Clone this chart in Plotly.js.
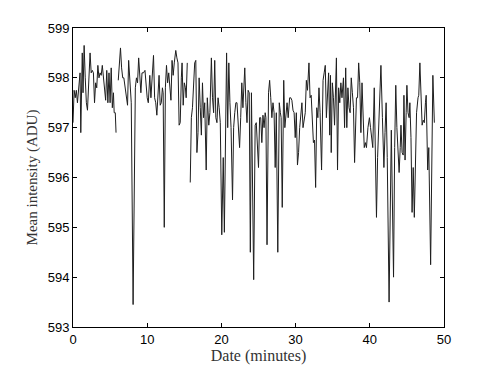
<!DOCTYPE html>
<html>
<head>
<meta charset="utf-8">
<script src="https://cdn.plot.ly/plotly-3.0.1.min.js"></script>
<style>
  html, body { margin: 0; padding: 0; background: #fff; }
  #fig { width: 491px; height: 369px; }
</style>
</head>
<body>
<div id="fig"></div>
<script>
// Time of each frame (minutes) and mean intensity (ADU); null = gap in record
var minutes = [
  0.0, 0.15, 0.3, 0.45, 0.6, 0.8, 0.95, 1.05, 1.15, 1.25, 1.35, 1.5, 1.65, 1.8, 1.95,
  2.1, 2.3, 2.45, 2.6, 2.75, 2.9, 3.05, 3.2, 3.35, 3.5, 3.65, 3.8, 3.95, 4.1, 4.25,
  4.4, 4.55, 4.7, 4.85, 5.0, 5.15, 5.3, 5.45, 5.55, 5.7, 5.8, 5.95,
  6.1, 6.25, 6.4, 6.55, 6.7, 6.85, 7.0, 7.2, 7.35, 7.5, 7.65, 7.85, 8.1, 8.4, 8.55,
  8.7, 8.85, 9.0, 9.15, 9.3, 9.5, 9.7, 9.85, 10.0, 10.15, 10.35, 10.5, 10.65, 10.85,
  11.0, 11.15, 11.3, 11.45, 11.6, 11.75, 11.9, 12.05, 12.15, 12.3, 12.45, 12.6, 12.75,
  12.9, 13.05, 13.2, 13.35, 13.5, 13.65, 13.85, 14.0, 14.15, 14.3, 14.45, 14.6, 14.7,
  14.85, 15.0, 15.15, 15.25, 15.4, 15.5,
  15.8, 15.95, 16.1, 16.25, 16.4, 16.55, 16.7, 16.85, 17.0, 17.15, 17.3, 17.45, 17.6,
  17.75, 17.95, 18.1, 18.3, 18.45, 18.65, 18.8, 18.95, 19.1, 19.25, 19.4, 19.55, 19.7,
  19.85, 20.05, 20.25, 20.4, 20.55, 20.7, 20.85, 21.0, 21.15, 21.3, 21.5, 21.65, 21.8,
  21.95, 22.1, 22.3, 22.45, 22.6, 22.75, 22.9, 23.05, 23.15, 23.3, 23.45, 23.6, 23.75,
  23.9, 24.05, 24.35, 24.55, 24.7, 24.85, 25.0, 25.15, 25.3, 25.45, 25.6, 25.75, 25.9,
  26.0, 26.15, 26.35, 26.5, 26.65, 26.8, 26.95, 27.1, 27.25, 27.4, 27.6, 27.8, 27.95,
  28.05, 28.2, 28.4, 28.55, 28.7, 28.85, 29.0, 29.2, 29.35, 29.5, 29.65, 29.8, 29.95,
  30.1, 30.25, 30.4, 30.55, 30.7, 30.85, 31.0, 31.15, 31.3, 31.45, 31.6, 31.8, 31.95,
  32.1, 32.25, 32.4, 32.55, 32.7, 32.85, 33.0, 33.15, 33.3, 33.5, 33.7, 33.85, 34.0,
  34.15, 34.3, 34.45, 34.6, 34.7, 34.8, 34.95, 35.1, 35.25, 35.5, 35.65, 35.8, 35.95,
  36.1, 36.25, 36.45, 36.6, 36.75, 36.9, 37.05, 37.2, 37.35, 37.5, 37.65, 37.8, 37.95,
  38.1, 38.2, 38.35, 38.5, 38.65, 38.8, 38.95, 39.1, 39.25, 39.4, 39.55, 39.75, 39.95,
  40.1, 40.25, 40.4, 40.6, 40.9, 41.05, 41.2, 41.35, 41.5, 41.7, 41.9, 42.05, 42.2,
  42.35, 42.6, 42.9, 43.2, 43.35, 43.5, 43.65, 43.8, 43.95, 44.1, 44.2, 44.35, 44.5,
  44.6, 44.75, 44.9, 45.0, 45.15, 45.3, 45.4, 45.55, 45.7, 45.85, 46.0, 46.15, 46.3,
  46.5, 46.6, 46.75, 46.9, 47.05, 47.2, 47.35, 47.5, 47.6, 47.8, 47.95, 48.2, 48.35,
  48.5, 48.7
];

var intensity = [
  597.1, 597.75, 597.6, 597.75, 597.5, 597.8, 598.1, 596.9, 597.7, 598.5, 597.7, 598.65, 598.0, 597.5, 597.35,
  597.9, 598.5, 598.1, 598.15, 598.1, 597.5, 597.9, 597.8, 598.25, 598.0, 598.1, 598.05, 598.25, 598.0, 597.8,
  597.55, 598.15, 597.5, 598.1, 597.5, 598.2, 597.4, 597.7, 597.3, 597.3, 596.9, null,
  597.95, 598.3, 598.6, 598.2, 598.0, 598.0, 597.8, 597.6, 597.45, 598.35, 598.0, 597.5, 593.45, 597.8, 598.0,
  597.9, 598.4, 597.9, 597.7, 598.1, 598.1, 598.15, 597.8, 597.6, 597.5, 598.05, 597.6, 597.9, 598.45,
  597.6, 597.5, 597.25, 597.6, 598.05, 597.45, 597.5, 597.8, 597.7, 595.0, 597.8, 598.25, 597.9,
  598.1, 597.8, 597.55, 598.35, 598.05, 598.3, 598.55, 598.4, 598.3, 597.05, 597.1, 598.0, 598.3,
  597.45, 597.9, 597.8, 597.6, 598.3, null,
  595.9, 597.2, 597.4, 598.0, 598.3, 598.35, 596.5, 596.9, 598.0, 597.4, 596.85, 597.9, 597.2,
  597.5, 596.15, 597.6, 597.05, 597.3, 598.4, 597.6, 597.3, 598.35, 597.2, 597.1, 597.6, 597.4,
  597.1, 594.85, 596.4, 594.9, 597.1, 598.5, 597.0, 598.3, 597.5, 597.0, 595.55, 597.0, 597.3,
  597.5, 597.5, 596.8, 596.6, 597.2, 597.9, 597.4, 597.8, 598.2, 597.5, 597.1, 597.75, 597.7,
  594.5, 597.7, 593.95, 597.05, 597.1, 596.5, 596.2, 597.2, 597.2, 596.7, 597.25, 597.0, 597.3,
  597.2, 594.65, 597.7, 597.95, 597.6, 597.2, 597.5, 597.3, 596.2, 597.3, 594.5, 597.5, 597.3,
  597.2, 595.4, 597.95, 597.0, 597.3, 597.5, 597.2, 597.6, 597.6, 597.55, 597.35, 597.3, 596.8,
  597.3, 596.25, 596.5, 597.0, 597.3, 597.5, 597.0, 597.2, 597.3, 597.95, 597.75, 598.3, 597.6,
  597.65, 597.2, 596.7, 596.75, 595.8, 597.4, 597.2, 597.8, 597.3, 596.15, 597.95, 598.1, 598.25,
  597.2, 597.8, 598.1, 596.85, 598.05, 596.5, 597.9, 597.6, 597.05, 598.4, 596.15, 597.8, 597.5,
  597.9, 597.6, 598.0, 597.0, 598.2, 597.0, 597.8, 597.4, 597.3, 598.0, 597.7, 597.4, 596.3,
  597.3, 597.6, 597.6, 598.3, 597.9, 596.9, 597.9, 597.4, 596.6, 596.7, 596.6, 597.0, 597.2,
  597.0, 596.8, 596.6, 597.8, 595.2, 596.4, 597.0, 597.6, 598.25, 597.2, 596.2, 596.9, 597.5,
  596.4, 593.5, 596.95, 594.0, 596.6, 597.85, 597.0, 596.5, 596.1, 596.6, 597.05, 596.5, 596.45,
  597.65, 596.35, 597.3, 597.85, 597.3, 597.2, 597.5, 596.8, 595.3, 596.2, 595.2, 596.3, 597.3,
  597.6, 597.65, 598.3, 597.7, 597.05, 597.15, 597.1, 597.5, 597.65, 596.15, 596.6, 594.25, 596.5,
  598.05, 597.1
];

var xTicks = [0, 10, 20, 30, 40, 50];
var yTicks = [593, 594, 595, 596, 597, 598, 599];

var trace = {
  x: minutes,
  y: intensity,
  type: 'scatter',
  mode: 'lines',
  connectgaps: false,
  line: {color: '#1e1e1e', width: 1},
  hoverinfo: 'skip'
};

var tickFont = {family: 'Liberation Sans, Arial, sans-serif', size: 13, color: '#000'};

var axisCommon = {
  showline: true, linecolor: '#000', linewidth: 1, mirror: 'ticks',
  ticks: 'inside', ticklen: 4, tickwidth: 1, tickcolor: '#000',
  showgrid: false, zeroline: false, automargin: false,
  tickfont: tickFont
};

var layout = {
  width: 491, height: 369,
  margin: {l: 73, r: 47, t: 28, b: 42, pad: 0},
  paper_bgcolor: '#fff', plot_bgcolor: '#fff',
  showlegend: false,
  xaxis: Object.assign({}, axisCommon, {
    range: [0, 50], tickvals: xTicks, ticktext: xTicks.map(String),
    title: {text: 'Date (minutes)', standoff: 2,
            font: {family: 'Liberation Serif, Times New Roman, serif', size: 16, color: '#333'}}
  }),
  yaxis: Object.assign({}, axisCommon, {
    range: [593, 599], tickvals: yTicks, ticktext: yTicks.map(String),
    title: {text: 'Mean intensity (ADU)', standoff: 6,
            font: {family: 'Liberation Serif, Times New Roman, serif', size: 15, color: '#333'}}
  })
};

Plotly.newPlot('fig', [trace], layout, {staticPlot: true, displayModeBar: false});
</script>
</body>
</html>
